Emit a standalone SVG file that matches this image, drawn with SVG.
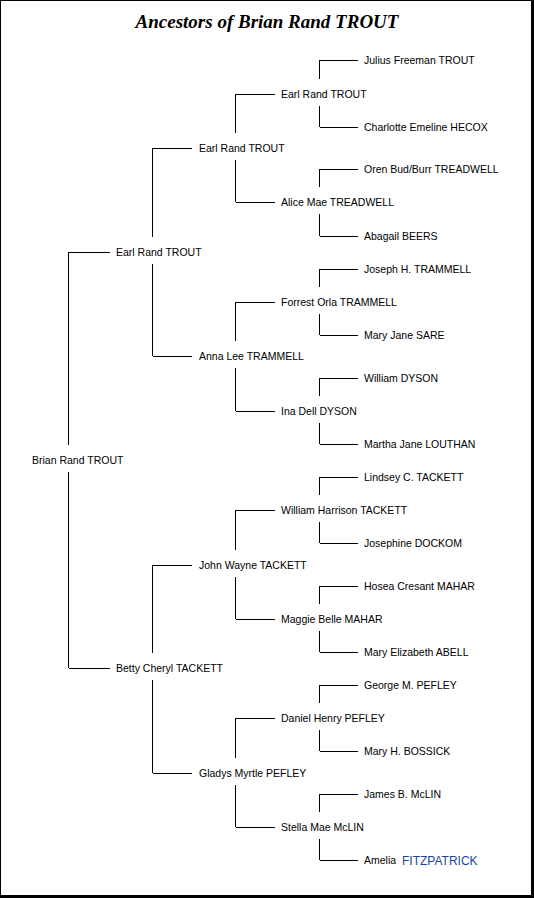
<svg xmlns="http://www.w3.org/2000/svg" width="534" height="898" viewBox="0 0 534 898">
<style>
.n{font-family:"Liberation Sans",Arial,sans-serif;font-size:10.5px;fill:#000}
.t{font-family:"Liberation Serif","Times New Roman",serif;font-size:19px;font-weight:bold;font-style:italic;fill:#000}
.b{font-family:"Liberation Sans",Arial,sans-serif;font-size:12px;fill:#1c4596}
.c path{stroke:#000;stroke-width:1;fill:none;shape-rendering:crispEdges}
</style>
<rect x="0" y="0" width="534" height="898" fill="#000"/>
<rect x="1" y="1" width="530" height="894" fill="#fff"/>
<text class="t" x="267" y="28" text-anchor="middle">Ancestors of Brian Rand TROUT</text>
<g class="c" id="connectors">
<path d="M68.5 252.5H110M68.5 668.5H110M68.5 252V445M68.5 472V668"/>
<path d="M152.5 148.5H192M152.5 356.5H192M152.5 148V237M152.5 264V356"/>
<path d="M152.5 565.5H192M152.5 773.5H192M152.5 565V653M152.5 680V773"/>
<path d="M235.5 94.5H275M235.5 202.5H275M235.5 94V133M235.5 160V202"/>
<path d="M235.5 302.5H275M235.5 411.5H275M235.5 302V341M235.5 368V411"/>
<path d="M235.5 510.5H275M235.5 619.5H275M235.5 510V550M235.5 577V619"/>
<path d="M235.5 718.5H275M235.5 827.5H275M235.5 718V758M235.5 785V827"/>
<path d="M319.5 60.5H358M319.5 127.5H358M319.5 60V79M319.5 106V127"/>
<path d="M319.5 169.5H358M319.5 236.5H358M319.5 169V187M319.5 214V236"/>
<path d="M319.5 269.5H358M319.5 335.5H358M319.5 269V287M319.5 314V335"/>
<path d="M319.5 378.5H358M319.5 444.5H358M319.5 378V396M319.5 423V444"/>
<path d="M319.5 477.5H358M319.5 543.5H358M319.5 477V495M319.5 522V543"/>
<path d="M319.5 586.5H358M319.5 652.5H358M319.5 586V604M319.5 631V652"/>
<path d="M319.5 685.5H358M319.5 751.5H358M319.5 685V703M319.5 730V751"/>
<path d="M319.5 794.5H358M319.5 860.5H358M319.5 794V812M319.5 839V860"/>
</g>
<g id="n-brian"><text class="n" x="32" y="464">Brian Rand TROUT</text></g>
<g id="n-earl1"><text class="n" x="116" y="256">Earl Rand TROUT</text></g>
<g id="n-betty"><text class="n" x="116" y="672">Betty Cheryl TACKETT</text></g>
<g id="n-earl2"><text class="n" x="199" y="152">Earl Rand TROUT</text></g>
<g id="n-anna"><text class="n" x="199" y="360">Anna Lee TRAMMELL</text></g>
<g id="n-john"><text class="n" x="199" y="569">John Wayne TACKETT</text></g>
<g id="n-gladys"><text class="n" x="199" y="777">Gladys Myrtle PEFLEY</text></g>
<g id="n-earl3"><text class="n" x="281" y="98">Earl Rand TROUT</text></g>
<g id="n-alice"><text class="n" x="281" y="206">Alice Mae TREADWELL</text></g>
<g id="n-forrest"><text class="n" x="281" y="306">Forrest Orla TRAMMELL</text></g>
<g id="n-ina"><text class="n" x="281" y="415">Ina Dell DYSON</text></g>
<g id="n-williamh"><text class="n" x="281" y="514">William Harrison TACKETT</text></g>
<g id="n-maggie"><text class="n" x="281" y="623">Maggie Belle MAHAR</text></g>
<g id="n-daniel"><text class="n" x="281" y="722">Daniel Henry PEFLEY</text></g>
<g id="n-stella"><text class="n" x="281" y="831">Stella Mae McLIN</text></g>
<g id="n-julius"><text class="n" x="364" y="64">Julius Freeman TROUT</text></g>
<g id="n-charlotte"><text class="n" x="364" y="131">Charlotte Emeline HECOX</text></g>
<g id="n-oren"><text class="n" x="364" y="173">Oren Bud/Burr TREADWELL</text></g>
<g id="n-abagail"><text class="n" x="364" y="240">Abagail BEERS</text></g>
<g id="n-joseph"><text class="n" x="364" y="273">Joseph H. TRAMMELL</text></g>
<g id="n-maryjane"><text class="n" x="364" y="339">Mary Jane SARE</text></g>
<g id="n-williamd"><text class="n" x="364" y="382">William DYSON</text></g>
<g id="n-martha"><text class="n" x="364" y="448">Martha Jane LOUTHAN</text></g>
<g id="n-lindsey"><text class="n" x="364" y="481">Lindsey C. TACKETT</text></g>
<g id="n-josephine"><text class="n" x="364" y="547">Josephine DOCKOM</text></g>
<g id="n-hosea"><text class="n" x="364" y="590">Hosea Cresant MAHAR</text></g>
<g id="n-marye"><text class="n" x="364" y="656">Mary Elizabeth ABELL</text></g>
<g id="n-george"><text class="n" x="364" y="689">George M. PEFLEY</text></g>
<g id="n-maryh"><text class="n" x="364" y="755">Mary H. BOSSICK</text></g>
<g id="n-james"><text class="n" x="364" y="798">James B. McLIN</text></g>
<g id="n-amelia"><text class="n" x="364" y="864">Amelia</text><text class="b" x="402" y="865">FITZPATRICK</text></g>
</svg>
